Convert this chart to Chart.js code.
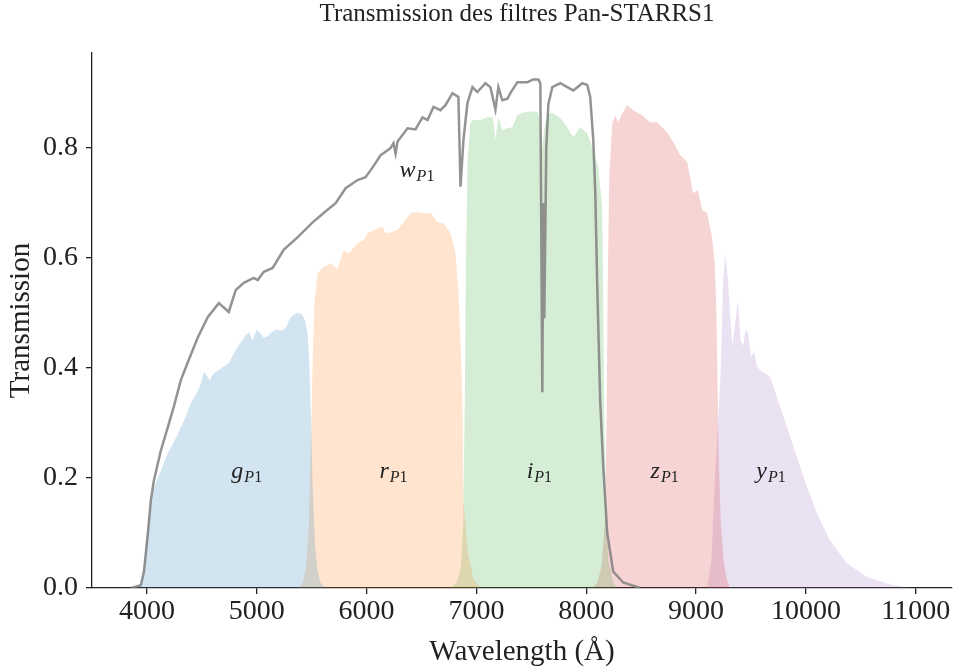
<!DOCTYPE html>
<html>
<head>
<meta charset="utf-8">
<script src="https://cdn.jsdelivr.net/npm/chart.js@4.4.1/dist/chart.umd.min.js"></script>
<style>body{margin:0;background:#fff}</style>
</head>
<body>
<canvas id="myChart" width="954" height="671"></canvas>
<script>
// filter curves (wavelength in Angstrom, transmission)
var gWave = [3900,3940,3960,3980,4000,4030,4060,4100,4150,4190,4230,4270,4310,4350,4400,4440,4480,4518,4550,4570,4600,4620,4680,4750,4800,4850,4900,4930,4960,5000,5040,5060,5100,5140,5180,5230,5270,5300,5330,5370,5410,5440,5465,5480,5495,5510,5530,5550,5580,5620];
var gTrans = [0,0.003,0.02,0.06,0.1,0.15,0.18,0.2,0.225,0.245,0.26,0.275,0.293,0.31,0.336,0.35,0.365,0.393,0.385,0.378,0.388,0.392,0.4,0.41,0.43,0.445,0.46,0.465,0.45,0.47,0.462,0.455,0.458,0.466,0.47,0.468,0.475,0.49,0.496,0.5,0.498,0.487,0.46,0.4,0.3,0.18,0.08,0.035,0.01,0];

var rWave = [5380,5420,5450,5475,5495,5510,5525,5555,5609,5673,5736,5791,5836,5918,5973,6009,6100,6145,6173,6218,6282,6327,6400,6464,6518,6582,6645,6700,6764,6809,6836,6855,6873,6882,6918,6973,7036];
var rTrans = [0,0.01,0.04,0.12,0.28,0.42,0.52,0.573,0.584,0.59,0.58,0.614,0.609,0.627,0.633,0.645,0.654,0.657,0.645,0.647,0.651,0.663,0.682,0.684,0.682,0.682,0.665,0.663,0.645,0.609,0.54,0.45,0.34,0.16,0.07,0.015,0];

var iWave = [6760,6820,6860,6880,6895,6905,6920,6945,6970,7036,7100,7150,7173,7200,7236,7282,7327,7373,7427,7518,7560,7582,7600,7620,7650,7691,7764,7827,7882,7945,8009,8064,8110,8145,8155,8165,8180,8200,8245,8280];
var iTrans = [0,0.01,0.04,0.12,0.35,0.6,0.78,0.845,0.851,0.851,0.856,0.856,0.815,0.856,0.833,0.836,0.838,0.86,0.865,0.867,0.865,0.845,0.8,0.84,0.862,0.864,0.855,0.838,0.82,0.838,0.827,0.796,0.765,0.693,0.5,0.3,0.15,0.05,0.01,0];

var zWave = [8060,8100,8140,8170,8185,8195,8210,8236,8264,8291,8327,8373,8427,8509,8582,8645,8736,8809,8855,8918,8945,8973,9018,9055,9100,9145,9170,9185,9195,9205,9225,9250,9280,9310];
var zTrans = [0,0.01,0.04,0.12,0.3,0.55,0.75,0.845,0.86,0.847,0.863,0.878,0.869,0.86,0.847,0.847,0.829,0.805,0.787,0.775,0.747,0.718,0.724,0.687,0.682,0.638,0.59,0.5,0.38,0.25,0.12,0.05,0.015,0];

var yWave = [9100,9140,9170,9200,9225,9245,9264,9290,9310,9330,9355,9382,9405,9430,9450,9473,9500,9530,9550,9582,9630,9673,9736,9780,9827,9918,10009,10100,10218,10373,10555,10791,10973];
var yTrans = [0,0.05,0.2,0.3,0.4,0.55,0.61,0.56,0.5,0.44,0.48,0.524,0.45,0.44,0.47,0.464,0.42,0.43,0.405,0.396,0.39,0.384,0.347,0.32,0.293,0.238,0.184,0.136,0.087,0.045,0.02,0.005,0];

var wWave = [3855,3945,3973,4009,4036,4064,4127,4191,4245,4309,4373,4464,4555,4655,4745,4809,4882,4973,5009,5064,5145,5245,5373,5509,5609,5718,5809,5918,5991,6055,6127,6218,6245,6264,6282,6373,6445,6509,6555,6609,6673,6718,6782,6836,6855,6882,6918,6964,7009,7082,7127,7173,7200,7236,7282,7309,7373,7464,7518,7564,7582,7600,7609,7618,7636,7655,7691,7764,7827,7882,7964,8009,8036,8064,8082,8100,8127,8155,8191,8245,8336,8491];
var wTrans = [0,0.005,0.03,0.1,0.16,0.196,0.25,0.293,0.33,0.378,0.411,0.456,0.493,0.518,0.502,0.542,0.555,0.564,0.56,0.575,0.582,0.615,0.638,0.665,0.682,0.7,0.727,0.742,0.747,0.765,0.787,0.8,0.809,0.79,0.812,0.836,0.834,0.856,0.851,0.875,0.869,0.878,0.9,0.893,0.73,0.815,0.882,0.911,0.902,0.918,0.911,0.87,0.911,0.887,0.89,0.9,0.92,0.92,0.925,0.925,0.918,0.356,0.7,0.49,0.8,0.88,0.911,0.918,0.911,0.905,0.918,0.915,0.893,0.815,0.72,0.55,0.34,0.22,0.1,0.03,0.01,0];

var xTickValues = [4000,5000,6000,7000,8000,9000,10000,11000];
var yTickValues = [0,0.2,0.4,0.6,0.8];

var labelNames = ['w','g','r','i','z','y'];
var labelWave = [6459,4909,6245,7573,8714,9682];
var labelTrans = [0.747,0.2,0.2,0.2,0.2,0.2];

function pts(w, t) {
  return w.map(function(v, i) { return {x: v, y: t[i]}; });
}

function band(w, t, rgb) {
  return {
    data: pts(w, t),
    fill: 'origin',
    backgroundColor: 'rgba(' + rgb + ',0.2)',
    borderWidth: 0,
    pointRadius: 0,
    tension: 0
  };
}

var serif = '"Liberation Serif", "DejaVu Serif", serif';

var filterLabels = {
  id: 'filterLabels',
  afterDatasetsDraw: function(chart) {
    var ctx = chart.ctx, xs = chart.scales.x, ys = chart.scales.y;
    ctx.save();
    ctx.fillStyle = '#222';
    ctx.textBaseline = 'alphabetic';
    ctx.textAlign = 'left';
    for (var i = 0; i < labelNames.length; i++) {
      var px = xs.getPixelForValue(labelWave[i]);
      var py = ys.getPixelForValue(labelTrans[i]);
      ctx.font = 'italic 24px ' + serif;
      var w1 = ctx.measureText(labelNames[i]).width;
      ctx.font = 'italic 16px ' + serif;
      var w2 = ctx.measureText('P').width;
      ctx.font = '16px ' + serif;
      var w3 = ctx.measureText('1').width;
      var x0 = px - (w1 + w2 + w3 + 1) / 2;
      ctx.font = 'italic 24px ' + serif;
      ctx.fillText(labelNames[i], x0, py);
      ctx.font = 'italic 16px ' + serif;
      ctx.fillText('P', x0 + w1 + 1, py + 4);
      ctx.font = '16px ' + serif;
      ctx.fillText('1', x0 + w1 + 1 + w2, py + 4);
    }
    ctx.restore();
  },
  afterDraw: function(chart) {
    var ctx = chart.ctx, a = chart.chartArea;
    ctx.save();
    ctx.fillStyle = '#222';
    ctx.font = '25px ' + serif;
    ctx.textAlign = 'center';
    ctx.textBaseline = 'middle';
    ctx.fillText('Transmission des filtres Pan-STARRS1', (a.left + a.right) / 2 - 5, 14);
    ctx.restore();
  }
};

var ctx = document.getElementById('myChart');
var myChart = new Chart(ctx, {
  type: 'line',
  data: {
    datasets: [
      {
        data: pts(wWave, wTrans),
        fill: false,
        borderColor: 'rgba(128,128,128,0.85)',
        borderWidth: 2.5,
        pointRadius: 0,
        tension: 0
      },
      band(gWave, gTrans, '31,119,180'),
      band(rWave, rTrans, '255,127,14'),
      band(iWave, iTrans, '44,160,44'),
      band(zWave, zTrans, '214,39,40'),
      band(yWave, yTrans, '148,103,189')
    ]
  },
  plugins: [filterLabels],
  options: {
    responsive: false,
    animation: false,
    devicePixelRatio: 1,
    layout: { padding: { left: 0, top: 53, right: 2, bottom: 0 } },
    plugins: {
      legend: { display: false },
      tooltip: { enabled: false },
      title: { display: false }
    },
    scales: {
      x: {
        type: 'linear',
        min: 3500,
        max: 11330,
        afterFit: function(s) { s.height = 83; },
        afterBuildTicks: function(s) { s.ticks = xTickValues.map(function(v) { return {value: v}; }); },
        grid: { drawOnChartArea: false, drawTicks: true, tickLength: 6, color: '#222', lineWidth: 1.3 },
        border: { display: true, color: '#222', width: 1.3 },
        ticks: {
          padding: 1,
          color: '#222',
          font: { family: serif, size: 28 },
          maxRotation: 0,
          autoSkip: false,
          callback: function(v) { return String(v); }
        },
        title: {
          display: true,
          text: 'Wavelength (Å)',
          color: '#222',
          font: { family: serif, size: 29 },
          padding: { top: 0, bottom: 1 }
        }
      },
      y: {
        min: 0,
        max: 0.973,
        afterFit: function(s) { s.width = 92; },
        afterBuildTicks: function(s) { s.ticks = yTickValues.map(function(v) { return {value: v}; }); },
        grid: { drawOnChartArea: false, drawTicks: true, tickLength: 6, color: '#222', lineWidth: 1.3 },
        border: { display: true, color: '#222', width: 1.3 },
        ticks: {
          padding: 8,
          color: '#222',
          font: { family: serif, size: 28 },
          callback: function(v) { return v.toFixed(1); }
        },
        title: {
          display: true,
          text: 'Transmission',
          color: '#222',
          font: { family: serif, size: 29 },
          padding: { top: 4, bottom: 0 }
        }
      }
    }
  }
});
</script>
</body>
</html>
